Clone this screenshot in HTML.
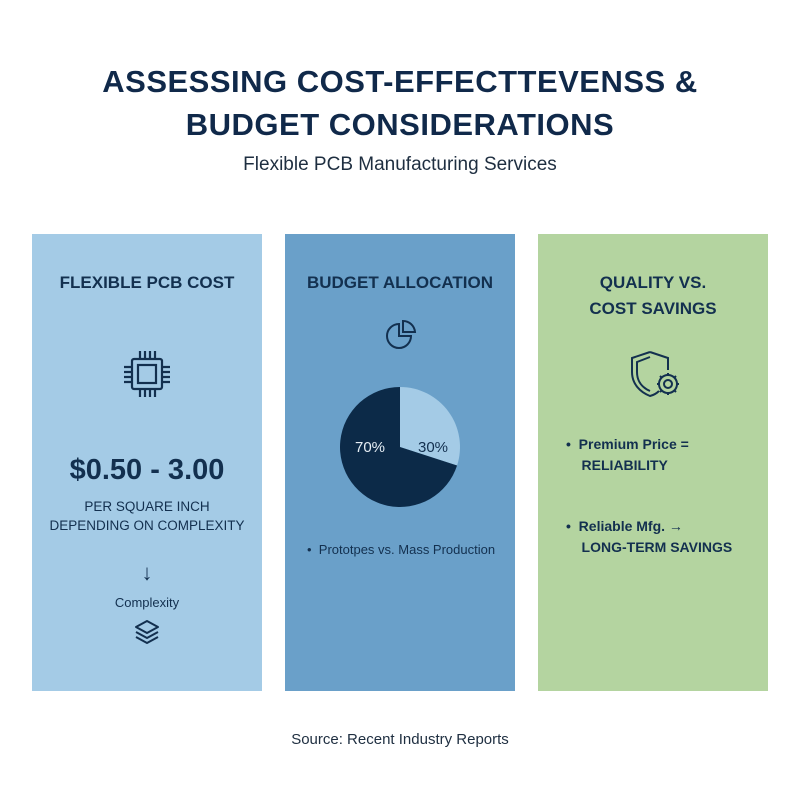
<!DOCTYPE html>
<html><head><meta charset="utf-8"><style>
body{margin:0;width:800px;height:800px;background:#fff;position:relative;font-family:"Liberation Sans",sans-serif;color:#0f2a47;overflow:hidden}
.a{position:absolute}
.c{text-align:center}
.panel{position:absolute;top:234px;height:457px;width:230px}
.h{font-weight:bold;font-size:17px;color:#13304f;width:230px;text-align:center;position:absolute;line-height:26px}
</style></head><body>
<div class="a c" style="left:0;top:60px;width:800px;font-size:31px;font-weight:bold;line-height:43px;color:#10294a;letter-spacing:0.5px">ASSESSING COST-EFFECTTEVENSS &amp;<br>BUDGET CONSIDERATIONS</div>
<div class="a c" style="left:0;top:154px;width:800px;font-size:19px;color:#1e2e40">Flexible PCB Manufacturing Services</div>

<div class="panel" style="left:32px;background:#a4cbe6">
 <div class="h" style="top:36px">FLEXIBLE PCB COST</div>
 <svg class="a" style="left:88px;top:113px" width="54" height="54" viewBox="0 0 54 54" fill="none" stroke="#13304f" stroke-width="2.2">
  <rect x="12" y="12" width="30" height="30" rx="2"/><rect x="18" y="18" width="18" height="18"/>
  <path d="M20 4v8M25 4v8M30 4v8M35 4v8M20 42v8M25 42v8M30 42v8M35 42v8M4 20h8M4 25h8M4 30h8M4 35h8M42 20h8M42 25h8M42 30h8M42 35h8"/>
 </svg>
 <div class="a c" style="left:0;top:220px;width:230px;font-size:29px;font-weight:bold;color:#13304f">$0.50 - 3.00</div>
 <div class="a c" style="left:0;top:263px;width:230px;font-size:13.5px;line-height:19px;color:#13304f">PER SQUARE INCH<br>DEPENDING ON COMPLEXITY</div>
 <div class="a c" style="left:0;top:326px;width:230px;font-size:22px;color:#13304f">↓</div>
 <div class="a c" style="left:0;top:361px;width:230px;font-size:13px;color:#13304f">Complexity</div>
 <svg class="a" style="left:101px;top:384px" width="28" height="28" viewBox="0 0 28 28" fill="none" stroke="#13304f" stroke-width="2" stroke-linejoin="round">
  <path d="M14 3L25 9L14 15L3 9Z"/><path d="M3 14L14 20L25 14"/><path d="M3 19L14 25L25 19"/>
 </svg>
</div>

<div class="panel" style="left:285px;background:#6aa0c9">
 <div class="h" style="top:36px">BUDGET ALLOCATION</div>
 <svg class="a" style="left:98px;top:84px" width="36" height="36" viewBox="0 0 36 36" fill="none" stroke="#13304f" stroke-width="2">
  <path d="M16 6A12 12 0 1 0 28 18H16Z"/><path d="M20 3A12 12 0 0 1 32 14H20Z"/>
 </svg>
 <svg class="a" id="pie" style="left:0;top:0" width="230" height="457"></svg>
 <div class="a" style="left:22px;top:308px;font-size:13px;color:#13304f">•&nbsp; Prototpes vs. Mass Production</div>
</div>

<div class="panel" style="left:538px;background:#b4d4a0">
 <div class="h" style="top:36px">QUALITY VS.<br>COST SAVINGS</div>
 <svg class="a" style="left:90px;top:114px" width="56" height="56" viewBox="0 0 56 56" fill="none" stroke="#13304f" stroke-width="2">
  <path d="M22 4L4 10V24C4 36 12 44 22 48C26 47 29 45 31 43"/><path d="M22 9L9 14V24C9 34 15 40 22 43"/><path d="M22 4L40 10V22"/>
  <circle cx="40" cy="36" r="4"/><circle cx="40" cy="36" r="9"/>
  <path d="M40 25v3M40 44v3M29 36h3M48 36h3M32 28l2 2M46 42l2 2M32 44l2-2M46 30l2-2"/>
 </svg>
 <div class="a" style="left:28px;top:200px;font-size:14px;font-weight:bold;line-height:21px;color:#13304f">•&nbsp; Premium Price =<br>&nbsp;&nbsp;&nbsp; RELIABILITY</div>
 <div class="a" style="left:28px;top:282px;font-size:14px;font-weight:bold;line-height:21px;color:#13304f">•&nbsp; Reliable Mfg. →<br>&nbsp;&nbsp;&nbsp; LONG-TERM SAVINGS</div>
</div>

<div class="a c" style="left:0;top:731px;width:800px;font-size:15px;color:#1e2e40">Source: Recent Industry Reports</div>

<script>
const sliceLabels = ["30%", "70%"];
const sliceValues = [30, 70];
const sliceColors = ["#a4cbe6", "#0c2a48"];
const svg = document.getElementById('pie');
const NS = "http://www.w3.org/2000/svg";
const cx = 115, cy = 213, r = 60;
const total = sliceValues.reduce((a,b)=>a+b,0);
function pt(frac, rad){const a = frac*2*Math.PI - Math.PI/2;return [cx+rad*Math.cos(a), cy+rad*Math.sin(a)];}
let acc = 0;
sliceValues.forEach((v,i)=>{
  const f0 = acc/total, f1 = (acc+v)/total; acc += v;
  const [x0,y0] = pt(f0,r), [x1,y1] = pt(f1,r);
  const p = document.createElementNS(NS,'path');
  p.setAttribute('d',`M${cx},${cy}L${x0},${y0}A${r},${r} 0 ${f1-f0>0.5?1:0} 1 ${x1},${y1}Z`);
  p.setAttribute('fill',sliceColors[i]);
  
  
  svg.appendChild(p);
  const [lx,ly] = pt((f0+f1)/2, r*0.55);
  const t = document.createElementNS(NS,'text');
  t.setAttribute('x', i===1 ? cx-r*0.5 : cx+r*0.55);
  t.setAttribute('y', cy+5);
  t.setAttribute('text-anchor','middle');
  t.setAttribute('font-size','15');
  t.setAttribute('font-family','Liberation Sans, sans-serif');
  t.setAttribute('fill', i===1 ? '#e6eef5' : '#13304f');
  t.textContent = sliceLabels[i];
  
  
  svg.appendChild(t);
});
</script>
</body></html>
